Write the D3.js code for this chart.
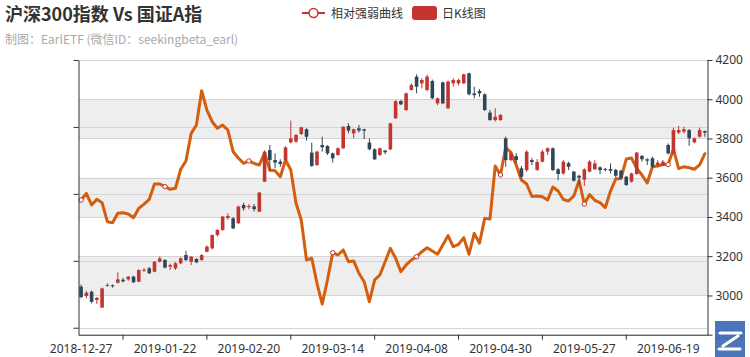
<!DOCTYPE html>
<html><head><meta charset="utf-8">
<script src="https://cdn.jsdelivr.net/npm/d3@7"></script>
<style>
html,body{margin:0;padding:0;background:#fff;}
svg{display:block;font-family:"Noto Sans","Noto Sans CJK SC",sans-serif;}
</style></head>
<body><svg id="c" width="750" height="357"></svg>
<script>
const dates = [
"2018-12-27","2018-12-28",
"2019-01-02","2019-01-03","2019-01-04","2019-01-07","2019-01-08","2019-01-09","2019-01-10","2019-01-11",
"2019-01-14","2019-01-15","2019-01-16","2019-01-17","2019-01-18","2019-01-21","2019-01-22","2019-01-23",
"2019-01-24","2019-01-25","2019-01-28","2019-01-29","2019-01-30","2019-01-31",
"2019-02-01","2019-02-11","2019-02-12","2019-02-13","2019-02-14","2019-02-15","2019-02-18","2019-02-19",
"2019-02-20","2019-02-21","2019-02-22","2019-02-25","2019-02-26","2019-02-27","2019-02-28",
"2019-03-01","2019-03-04","2019-03-05","2019-03-06","2019-03-07","2019-03-08","2019-03-11","2019-03-12",
"2019-03-13","2019-03-14","2019-03-15","2019-03-18","2019-03-19","2019-03-20","2019-03-21","2019-03-22",
"2019-03-25","2019-03-26","2019-03-27","2019-03-28","2019-03-29",
"2019-04-01","2019-04-02","2019-04-03","2019-04-04","2019-04-08","2019-04-09","2019-04-10","2019-04-11",
"2019-04-12","2019-04-15","2019-04-16","2019-04-17","2019-04-18","2019-04-19","2019-04-22","2019-04-23",
"2019-04-24","2019-04-25","2019-04-26","2019-04-29","2019-04-30",
"2019-05-06","2019-05-07","2019-05-08","2019-05-09","2019-05-10","2019-05-13","2019-05-14","2019-05-15",
"2019-05-16","2019-05-17","2019-05-20","2019-05-21","2019-05-22","2019-05-23","2019-05-24","2019-05-27",
"2019-05-28","2019-05-29","2019-05-30","2019-05-31",
"2019-06-03","2019-06-04","2019-06-05","2019-06-06","2019-06-10","2019-06-11","2019-06-12","2019-06-13",
"2019-06-14","2019-06-17","2019-06-18","2019-06-19","2019-06-20","2019-06-21","2019-06-24","2019-06-25",
"2019-06-26","2019-06-27","2019-06-28"
];
// K-line values: open, close, low, high
const opens = [3045,2997,3019,2977,2938,3050,3052,3065,3080,3082,3096,3070,3126,3138,3121,3172,3181,3147,3138,3164,
3206,3172,3186,3181,3223,3240,3308,3334,3395,3393,3368,3461,3450,3454,3427,3580,3741,3690,3682,3690,
3780,3784,3823,3847,3728,3665,3767,3762,3724,3716,3750,3864,3826,3852,3847,3779,3745,3716,3738,3745,
3903,3991,3945,4047,4115,4081,4047,4093,3979,4086,3954,4081,4081,4081,4132,4030,4042,4025,3932,3894,
3894,3801,3690,3710,3648,3639,3690,3640,3682,3733,3750,3643,3622,3674,3631,3610,3590,3631,3643,3653,
3645,3645,3640,3636,3605,3580,3619,3711,3694,3699,3665,3665,3767,3724,3830,3835,3843,3780,3809,3838];
const closes = [2992,3014,2968,2988,3036,3054,3047,3082,3072,3096,3067,3130,3131,3113,3172,3189,3142,3155,3164,3189,
3181,3198,3169,3206,3249,3308,3334,3402,3405,3342,3453,3444,3456,3440,3524,3733,3690,3677,3670,3755,
3801,3818,3857,3809,3660,3733,3755,3724,3699,3750,3860,3840,3847,3840,3840,3745,3694,3750,3730,3877,
3990,3974,4030,4073,4064,4098,4115,4005,4005,3979,4090,4098,4098,4127,4025,4021,4030,3945,3894,3911,
3920,3690,3724,3690,3605,3733,3680,3680,3733,3750,3639,3619,3682,3656,3585,3600,3643,3682,3673,3639,
3640,3636,3610,3597,3563,3622,3728,3694,3687,3656,3677,3682,3724,3843,3843,3847,3801,3801,3843,3830];
const lows = [2985,2985,2960,2957,2936,3044,3040,3060,3066,3075,3064,3068,3120,3110,3118,3168,3138,3130,3130,3160,
3175,3155,3165,3176,3220,3235,3300,3330,3385,3338,3365,3432,3440,3428,3425,3578,3631,3648,3656,3685,
3775,3778,3818,3789,3656,3660,3733,3716,3677,3712,3748,3826,3801,3830,3796,3740,3690,3710,3720,3740,
3900,3970,3940,4045,4030,4055,4040,4000,3970,3975,3950,4064,4070,4078,4020,4005,4013,3940,3890,3886,
3890,3656,3685,3675,3595,3630,3664,3635,3678,3716,3635,3588,3615,3639,3580,3565,3558,3628,3640,3619,
3632,3622,3600,3592,3558,3575,3615,3682,3665,3650,3656,3660,3718,3720,3823,3826,3763,3775,3805,3809];
const highs = [3055,3024,3025,2992,3040,3062,3056,3118,3090,3098,3100,3133,3140,3145,3175,3198,3185,3162,3170,3195,
3228,3200,3190,3210,3255,3310,3338,3405,3418,3400,3458,3473,3465,3466,3528,3740,3767,3724,3694,3760,
3891,3822,3860,3852,3779,3738,3809,3766,3728,3755,3862,3877,3850,3869,3850,3800,3750,3753,3742,3880,
3995,3995,4035,4081,4127,4107,4125,4100,4008,4090,4095,4107,4105,4130,4135,4064,4052,4030,3945,3954,
3925,3810,3735,3725,3660,3740,3700,3695,3742,3755,3755,3650,3690,3682,3635,3615,3648,3690,3690,3658,
3650,3673,3645,3640,3610,3626,3732,3716,3699,3707,3690,3690,3775,3855,3864,3860,3848,3805,3855,3840];
// relative strength curve (left axis, labels hidden)
const strength = [0.8954,0.9004,0.8917,0.8959,0.8934,0.8792,0.8785,0.8855,0.8859,0.8850,
0.8822,0.8892,0.8924,0.8959,0.9074,0.9074,0.9054,0.9034,0.9042,0.9184,
0.9246,0.9452,0.9514,0.9771,0.9626,0.9539,0.9490,0.9514,0.9477,0.9315,
0.9268,0.9228,0.9246,0.9228,0.9216,0.9303,0.9178,0.9173,0.9128,0.9253,
0.9178,0.8930,0.8805,0.8506,0.8519,0.8332,0.8177,0.8357,0.8561,0.8543,
0.8581,0.8493,0.8499,0.8407,0.8344,0.8194,0.8357,0.8394,0.8493,0.8593,
0.8519,0.8419,0.8469,0.8506,0.8531,0.8568,0.8598,0.8573,0.8549,0.8618,
0.8688,0.8605,0.8623,0.8673,0.8549,0.8705,0.8631,0.8817,0.8812,0.9208,
0.9141,0.9346,0.9309,0.9216,0.9104,0.9074,0.8980,0.8984,0.8979,0.8954,
0.9051,0.9021,0.8958,0.8947,0.8984,0.9100,0.8924,0.8995,0.8952,0.8934,
0.8898,0.9021,0.9111,0.9115,0.9260,0.9268,0.9190,0.9141,0.9081,0.9203,
0.9208,0.9219,0.9219,0.9335,0.9189,0.9203,0.9195,0.9184,0.9216,0.9300];
const priceTicks = [2800,3000,3200,3400,3600,3800,4000,4200];
const strengthTicks = [0.80,0.85,0.90,0.95,1.00];
const labelDates = ["2018-12-27","2019-01-22","2019-02-20","2019-03-14","2019-04-08","2019-04-30","2019-05-27","2019-06-19"];
const tickDates = ["2019-01-10","2019-02-01","2019-03-04","2019-03-26","2019-04-18","2019-05-15","2019-06-06"];
const seriesNames = ["相对强弱曲线","日K线图"];
const titleText = "沪深300指数 Vs 国证A指";
const subtitleText = "制图：EarlETF (微信ID：seekingbeta_earl)";

const upColor = "#c23531", downColor = "#314656", lineColor = "#d45d0e", axisColor = "#333";
const L = 78.5, R = 707.5, T = 60, B = 334.7;

const svg = d3.select("#c");
const x = d3.scaleBand().domain(dates).range([L, R]).padding(0);
const cx = d => x(d) + x.bandwidth() / 2;
const yP = d3.scaleLinear().domain([2800, 4200]).range([B, T]);
const yS = d3.scaleLinear().domain([0.7948, 1.0]).range([B, T]);

// split areas (right axis)
const bands = svg.append("g");
for (let k = 0; k < priceTicks.length - 1; k++) {
  if (k % 2 === 1) {
    bands.append("rect").attr("x", L).attr("width", R - L)
      .attr("y", yP(priceTicks[k + 1])).attr("height", yP(priceTicks[k]) - yP(priceTicks[k + 1]))
      .attr("fill", "#eeeeee");
  }
}
// split lines
const grid = svg.append("g").attr("stroke", "#d4d4d4").attr("stroke-width", 1);
priceTicks.forEach(t => grid.append("line").attr("x1", L).attr("x2", R)
  .attr("y1", Math.round(yP(t)) + 0.5).attr("y2", Math.round(yP(t)) + 0.5));
strengthTicks.forEach(t => grid.append("line").attr("x1", L).attr("x2", R)
  .attr("y1", Math.round(yS(t)) + 0.5).attr("y2", Math.round(yS(t)) + 0.5));

// relative strength line
const lineGen = d3.line().x((d, i) => cx(dates[i])).y(d => yS(d));
svg.append("path").datum(strength).attr("d", lineGen)
  .attr("fill", "none").attr("stroke", lineColor).attr("stroke-width", 3)
  .attr("stroke-linejoin", "round").attr("stroke-linecap", "round");
svg.append("g").selectAll("circle").data(labelDates).join("circle")
  .attr("cx", d => cx(d)).attr("cy", d => yS(strength[dates.indexOf(d)]))
  .attr("r", 2.2).attr("fill", "#fff").attr("stroke", upColor).attr("stroke-width", 1);

// candlesticks
const bw = 3.6;
const kg = svg.append("g");
dates.forEach((d, i) => {
  const o = opens[i], c = closes[i], up = c >= o;
  const col = up ? upColor : downColor;
  const xc = cx(d);
  kg.append("line").attr("x1", xc).attr("x2", xc)
    .attr("y1", yP(highs[i])).attr("y2", yP(lows[i])).attr("stroke", col).attr("stroke-width", 1);
  const yt = yP(Math.max(o, c)), yb = yP(Math.min(o, c));
  kg.append("rect").attr("x", xc - bw / 2).attr("width", bw)
    .attr("y", yt).attr("height", Math.max(1, yb - yt)).attr("fill", col);
});

// axes
const fontFam = '"Noto Sans","Noto Sans CJK SC",sans-serif';
const gx = svg.append("g").attr("transform", `translate(0,${B})`)
  .call(d3.axisBottom(x).tickValues(labelDates).tickSize(0).tickPadding(10).tickSizeOuter(0));
const gxt = svg.append("g").attr("transform", `translate(0,${B})`)
  .call(d3.axisBottom(x).tickValues(tickDates).tickSize(5).tickFormat("").tickSizeOuter(0));
gxt.select(".domain").remove();
const gl = svg.append("g").attr("transform", `translate(${L},0)`)
  .call(d3.axisLeft(yS).tickValues(strengthTicks).tickSize(5).tickFormat("").tickSizeOuter(0));
const gr = svg.append("g").attr("transform", `translate(${R},0)`)
  .call(d3.axisRight(yP).tickValues(priceTicks).tickSize(5).tickPadding(3).tickFormat(d3.format("d")).tickSizeOuter(0));
[gx, gxt, gl, gr].forEach(g => {
  g.selectAll(".domain").attr("stroke", axisColor);
  g.selectAll(".tick line").attr("stroke", axisColor);
  g.selectAll("text").attr("fill", axisColor).style("font-size", "12px").style("font-family", fontFam);
});

// logo (bottom-right watermark)
const logo = svg.append("g");
logo.append("rect").attr("x", 715).attr("y", 321).attr("width", 30).attr("height", 36)
  .attr("fill", "#3d6cb4").attr("fill-opacity", 0.93);
logo.append("path").attr("d", "M720,333 H741 M738,336 L723,346 M719,349 H740")
  .attr("stroke", "#fff").attr("stroke-width", 3).attr("fill", "none").attr("stroke-linecap", "round");

// titles
svg.append("text").attr("x", 5).attr("y", 21).text(titleText)
  .attr("fill", "#333").style("font-size", "18px").style("font-weight", "bold")
  .style("font-family", '"Noto Sans CJK SC","Noto Sans",sans-serif');
svg.append("text").attr("x", 5).attr("y", 44).text(subtitleText)
  .attr("fill", "#aaa").style("font-size", "12px")
  .style("font-family", '"Noto Sans CJK SC","Noto Sans",sans-serif');

// legend
const lg = svg.append("g").style("font-size", "12px").style("font-family", '"Noto Sans CJK SC","Noto Sans",sans-serif');
lg.append("line").attr("x1", 302).attr("x2", 325).attr("y1", 13).attr("y2", 13)
  .attr("stroke", upColor).attr("stroke-width", 2);
lg.append("circle").attr("cx", 313.5).attr("cy", 13).attr("r", 4.5)
  .attr("fill", "#fff").attr("stroke", upColor).attr("stroke-width", 1.5);
lg.append("text").attr("x", 331).attr("y", 17.5).attr("fill", "#333").text(seriesNames[0]);
lg.append("rect").attr("x", 412).attr("y", 6).attr("width", 25).attr("height", 14).attr("rx", 3)
  .attr("fill", upColor);
lg.append("text").attr("x", 442).attr("y", 17.5).attr("fill", "#333").text(seriesNames[1]);
</script></body></html>
